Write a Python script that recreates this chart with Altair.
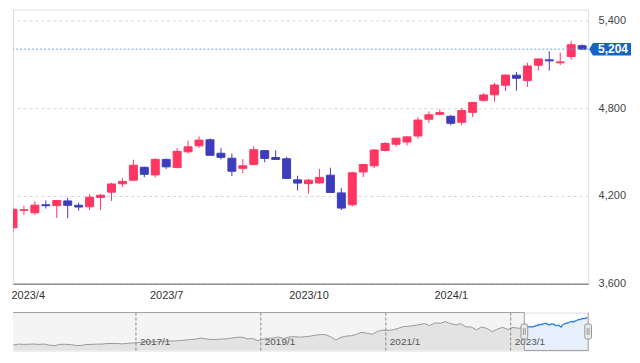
import altair as alt
import pandas as pd

# ---------------- data: weekly candles (2023/3/27 - 2024/3/25) ----------------
week_start = pd.date_range("2023-03-27", periods=53, freq="7D")
opens = [3982, 4102, 4085, 4140, 4134, 4166, 4136, 4126, 4190, 4226,
         4283, 4308, 4396, 4344, 4450, 4394, 4502, 4543, 4584, 4492,
         4458, 4389, 4415, 4510, 4463, 4454, 4310, 4284, 4289, 4342,
         4221, 4140, 4364, 4406, 4511, 4554, 4569, 4610, 4725, 4758,
         4745, 4704, 4772, 4854, 4892, 4957, 5026, 4989, 5094, 5131,
         5111, 5154, 5228]
highs = [4110, 4133, 4164, 4170, 4170, 4186, 4155, 4213, 4213, 4290,
         4322, 4448, 4400, 4458, 4456, 4528, 4578, 4607, 4594, 4527,
         4490, 4452, 4541, 4514, 4511, 4467, 4338, 4318, 4385, 4393,
         4255, 4366, 4418, 4520, 4568, 4598, 4609, 4738, 4778, 4793,
         4754, 4802, 4842, 4903, 4975, 5030, 5048, 5111, 5140, 5190,
         5180, 5261, 5236]
lows = [3951, 4069, 4072, 4114, 4049, 4048, 4099, 4103, 4103, 4166,
        4261, 4305, 4328, 4328, 4385, 4389, 4490, 4528, 4474, 4450,
        4335, 4356, 4414, 4430, 4447, 4316, 4238, 4217, 4284, 4222,
        4104, 4127, 4329, 4390, 4505, 4537, 4546, 4593, 4699, 4751,
        4683, 4682, 4739, 4845, 4845, 4918, 4920, 4946, 5057, 5057,
        5095, 5132, 5200]
closes = [4109, 4105, 4137, 4133, 4169, 4136, 4124, 4191, 4205, 4282,
          4299, 4410, 4348, 4450, 4399, 4505, 4536, 4582, 4478, 4464,
          4369, 4406, 4516, 4457, 4450, 4320, 4288, 4308, 4327, 4224,
          4117, 4358, 4415, 4514, 4559, 4595, 4604, 4719, 4755, 4770,
          4697, 4784, 4840, 4891, 4959, 5027, 5005, 5089, 5137, 5124,
          5117, 5234, 5204]

x_tick_idx = [1, 14, 27, 40]
x_tick_labels = ["2023/4", "2023/7", "2023/10", "2024/1"]
y_ticks = [3600, 4200, 4800, 5400]
y_domain = [3600, 5475]
x_max = 52.55
last_close = closes[-1]

# ---------------- data: navigator (monthly, 2015/1 - 2023/2) ----------------
nav_monthly = [
    1995, 2105, 2068, 2086, 2107, 2063, 2104, 1972, 1920, 2079, 2080, 2044,
    1940, 1932, 2060, 2065, 2097, 2099, 2174, 2171, 2168, 2126, 2199, 2239,
    2279, 2364, 2363, 2384, 2412, 2423, 2470, 2472, 2519, 2575, 2648, 2674,
    2824, 2714, 2641, 2648, 2705, 2718, 2816, 2902, 2914, 2712, 2760, 2507,
    2704, 2784, 2834, 2946, 2752, 2942, 2980, 2926, 2977, 3038, 3141, 3231,
    3226, 2954, 2585, 2912, 3044, 3100, 3271, 3500, 3363, 3270, 3622, 3756,
    3714, 3811, 3973, 4181, 4204, 4298, 4395, 4523, 4308, 4605, 4567, 4766,
    4516, 4374, 4530, 4132, 4132, 3785, 4130, 3955, 3586, 3872, 4080, 3840,
    4077, 3970]
nav_months = [f"{y}-{m:02d}-15" for y in range(2015, 2024) for m in range(1, 13)][:len(nav_monthly)]
nav_start, sel_start, nav_end = "2015-01-13", "2023-03-22", "2024-03-29"
nav_ticks = ["2017-01-01", "2019-01-01", "2021-01-01", "2023-01-01"]
nav_tick_labels = ["2017/1", "2019/1", "2021/1", "2023/1"]
nav_lo, nav_hi = 1350, 5830

RED = "#ff3562"
BLUE = "#3d3dbb"
FONT = "Liberation Sans"

# ---------------- tables ----------------
candles = pd.DataFrame({"i": list(range(len(closes))), "o": opens, "h": highs,
                        "l": lows, "c": closes})
candles["dir"] = ["up" if c >= o else "down" for o, c in zip(opens, closes)]

gray_df = pd.DataFrame({"d": nav_months + [str(week_start[0].date())],
                        "v": nav_monthly + [closes[0]]})
blue_df = pd.DataFrame({"d": [str(d.date()) for d in week_start], "v": closes})
nav_tick_df = pd.DataFrame({"d": nav_ticks, "t": nav_tick_labels})


def dt(s):
    y, m, d = (int(p) for p in s.split("-"))
    return alt.DateTime(year=y, month=m, date=d)


# ---------------- main chart ----------------
label_expr = " : ".join(
    [f"datum.value == {v} ? '{t}'" for v, t in zip(x_tick_idx, x_tick_labels)]) + " : ''"
xaxis = alt.Axis(values=x_tick_idx, labelExpr=label_expr, grid=False, ticks=False,
                 domainColor="#666666", domainWidth=1, labelColor="#333333",
                 labelFont=FONT, labelFontSize=11, labelPadding=6,
                 labelFlush=15, labelFlushOffset=13, labelOverlap=False, title=None)
yaxis = alt.Axis(orient="right", values=y_ticks, labelExpr="format(datum.value, ',')",
                 grid=True, gridDash=[3, 3], gridColor="#d6d6d6", domain=False, ticks=False,
                 labelPadding=10, labelColor="#444444", labelFont=FONT,
                 labelFontSize=11, title=None)
xscale = alt.Scale(domain=[0, x_max], nice=False, zero=False, padding=0)
yscale = alt.Scale(domain=y_domain, nice=False, zero=False)
cscale = alt.Scale(domain=["up", "down"], range=[RED, BLUE])

base = alt.Chart(candles).encode(
    x=alt.X("i:Q", scale=xscale, axis=xaxis, title=None),
    color=alt.Color("dir:N", scale=cscale, legend=None),
)
wicks = base.mark_rule(strokeWidth=1, clip=True).encode(
    y=alt.Y("l:Q", scale=yscale, axis=yaxis, title=None), y2="h:Q")
bodies = base.mark_bar(size=8, strokeWidth=1, clip=True).encode(
    y=alt.Y("o:Q", scale=yscale, axis=yaxis, title=None), y2="c:Q",
    stroke=alt.Stroke("dir:N", scale=cscale, legend=None))

last_df = pd.DataFrame({"i": [x_max], "v": [last_close], "t": [f"{last_close:,}"]})
price_line = alt.Chart(last_df).mark_rule(color="#6aa6ea", strokeDash=[2, 2], strokeWidth=1).encode(
    y=alt.Y("v:Q", scale=yscale, axis=yaxis, title=None))
BADGE = "M-1,0L-0.82,-0.3L1,-0.3L1,0.3L-0.82,0.3Z"
badge = alt.Chart(last_df).mark_point(shape=BADGE, size=1764, filled=True, opacity=1,
                                      color="#1565c8", xOffset=22).encode(
    x=alt.X("i:Q", scale=xscale, axis=xaxis, title=None),
    y=alt.Y("v:Q", scale=yscale, axis=yaxis, title=None))
badge_text = alt.Chart(last_df).mark_text(color="white", font=FONT, fontSize=12, fontWeight="bold",
                                          align="center", baseline="middle", dx=25).encode(
    x=alt.X("i:Q", scale=xscale, axis=xaxis, title=None),
    y=alt.Y("v:Q", scale=yscale, axis=yaxis, title=None),
    text="t:N")

main = alt.layer(wicks, bodies, price_line, badge, badge_text).properties(width=577, height=275)

# ---------------- navigator ----------------
nxs = alt.Scale(domain=[dt(nav_start), dt(nav_end)], nice=False)
nys = alt.Scale(domain=[nav_lo, nav_hi], nice=False, zero=False)
range_df = pd.DataFrame({"a": [nav_start, sel_start], "b": [sel_start, nav_end]})
mask = alt.Chart(range_df.iloc[[0]]).mark_rect(color="#f4f4f4").encode(
    x=alt.X("a:T", scale=nxs, axis=None), x2="b:T",
    y=alt.datum(nav_lo, scale=nys, axis=None), y2=alt.datum(nav_hi))
gray_area = alt.Chart(gray_df).mark_area(color="#e3e3e3").encode(
    x=alt.X("d:T", scale=nxs, axis=None), y=alt.Y("v:Q", scale=nys, axis=None),
    y2=alt.datum(nav_lo))
gray_line = alt.Chart(gray_df).mark_line(color="#9a9a9a", strokeWidth=1).encode(
    x=alt.X("d:T", scale=nxs, axis=None), y=alt.Y("v:Q", scale=nys, axis=None))
blue_area = alt.Chart(blue_df).mark_area(color="#e6effb").encode(
    x=alt.X("d:T", scale=nxs, axis=None), y=alt.Y("v:Q", scale=nys, axis=None),
    y2=alt.datum(nav_lo))
blue_line = alt.Chart(blue_df).mark_line(color="#2f7ed8", strokeWidth=1.3).encode(
    x=alt.X("d:T", scale=nxs, axis=None), y=alt.Y("v:Q", scale=nys, axis=None))
tick_rules = alt.Chart(nav_tick_df).mark_rule(color="#8a8a8a", strokeDash=[3, 2], strokeWidth=1).encode(
    x=alt.X("d:T", scale=nxs, axis=None))
tick_text = alt.Chart(nav_tick_df).mark_text(align="left", baseline="middle", dx=4, dy=-8,
                                             font=FONT, fontSize=10, color="#555555").encode(
    x=alt.X("d:T", scale=nxs, axis=None), y=alt.datum(nav_lo, scale=nys, axis=None), text="t:N")
top_border = alt.Chart(range_df.iloc[[0]]).mark_rule(color="#a0a0a0", strokeWidth=1).encode(
    x=alt.X("a:T", scale=nxs, axis=None), x2="b:T", y=alt.datum(nav_hi, scale=nys, axis=None))
bottom_border = alt.Chart(range_df.iloc[[1]]).mark_rule(color="#a0a0a0", strokeWidth=1).encode(
    x=alt.X("a:T", scale=nxs, axis=None), x2="b:T", y=alt.datum(nav_lo, scale=nys, axis=None))
handle_df = pd.DataFrame({"d": [sel_start, nav_end]})
side_border = alt.Chart(handle_df).mark_rule(color="#a0a0a0", strokeWidth=1).encode(
    x=alt.X("d:T", scale=nxs, axis=None))
HANDLE = ("M-0.45,-0.75Q-0.45,-1,-0.2,-1L0.2,-1Q0.45,-1,0.45,-0.75L0.45,0.75"
          "Q0.45,1,0.2,1L-0.2,1Q-0.45,1,-0.45,0.75Z"
          "M-0.12,-0.45L-0.12,0.45M0.12,-0.45L0.12,0.45")
handles = alt.Chart(handle_df).mark_point(shape=HANDLE, size=225, filled=True, opacity=1,
                                          fill="#e8e8e8", stroke="#999999", strokeWidth=1).encode(
    x=alt.X("d:T", scale=nxs, axis=None),
    y=alt.datum((nav_lo + nav_hi) / 2, scale=nys, axis=None))

nav = alt.layer(mask, gray_area, gray_line, blue_area, blue_line, tick_rules, tick_text,
                top_border, bottom_border, side_border, handles).properties(width=577, height=38)

chart = alt.vconcat(main, nav, spacing=29, bounds="flush").properties(
    padding={"left": 2, "top": 0, "right": 0, "bottom": 0}
).configure_view(strokeWidth=0).configure(font=FONT)

chart.save("out.html", embed_options={"renderer": "svg", "actions": False})
